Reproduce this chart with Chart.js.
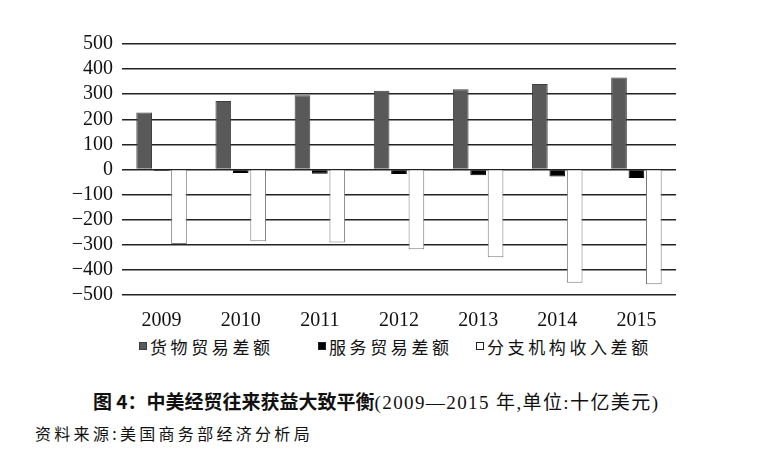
<!DOCTYPE html>
<html>
<head>
<meta charset="utf-8">
<script src="https://cdn.jsdelivr.net/npm/chart.js@4"></script>
<style>
  body { margin: 0; width: 768px; height: 456px; position: relative; background: #fff; overflow: hidden; }
  #wrap { position: absolute; left: 0; top: 0; width: 768px; height: 330px; }
  .legend-item { position: absolute; top: 336px; height: 20px; display: flex; align-items: center;
    font-family: "Noto Sans CJK SC", sans-serif; font-size: 17px; letter-spacing: 3.6px; color: #111; white-space: nowrap; }
  .legend-box { width: 6px; height: 6px; margin-right: 3px; flex: none; }
  #caption { position: absolute; left: 93px; top: 390px; line-height: 22px; white-space: nowrap; color: #111; }
  #caption b { font-family: "Noto Sans CJK SC", sans-serif; font-size: 19px; font-weight: 700; }
  #caption span { font-family: "Liberation Serif", "Noto Sans CJK SC", serif; font-size: 19px; letter-spacing: 1.4px; }
  #source { position: absolute; left: 35px; top: 423px; line-height: 20px; white-space: nowrap; color: #111;
    font-family: "Noto Sans CJK SC", sans-serif; font-size: 16px; letter-spacing: 3.3px; }
</style>
</head>
<body>
<div id="wrap"><canvas id="chart"></canvas></div>
<div id="legend"></div>
<div id="caption"><b>图 4：中美经贸往来获益大致平衡</b><span>(2009—2015 年,单位:十亿美元)</span></div>
<div id="source">资料来源:美国商务部经济分析局</div>
<script>
// Chart data (billions of USD)
const years = ['2009', '2010', '2011', '2012', '2013', '2014', '2015'];
const seriesNames = ['货物贸易差额', '服务贸易差额', '分支机构收入差额'];
const goodsBalance = [227, 273, 296, 314, 320, 341, 367];
const servicesBalance = [-6, -14, -17, -18, -23, -28, -34];
const affiliateBalance = [-297, -286, -291, -318, -350, -451, -457];

// where each legend entry starts (px)
const legendLeft = [139, 318, 476];

const serif = 'Liberation Serif';

function renderChart() {
    const ctx = document.getElementById('chart').getContext('2d');
    return new Chart(ctx, {
        type: 'bar',
        data: {
            labels: years,
            datasets: [
                { label: seriesNames[0], data: goodsBalance, backgroundColor: '#595959', borderColor: '#3d3d3d', borderWidth: 1 },
                { label: seriesNames[1], data: servicesBalance, backgroundColor: '#000000', borderColor: '#000000', borderWidth: 1 },
                { label: seriesNames[2], data: affiliateBalance, backgroundColor: '#ffffff', borderColor: '#7a7a7a', borderWidth: 1 }
            ]
        },
        options: {
            responsive: true,
            maintainAspectRatio: false,
            animation: false,
            layout: { padding: { top: 44, right: 92, bottom: 0, left: 0 } },
            datasets: { bar: { categoryPercentage: 0.66, barPercentage: 0.9 } },
            plugins: {
                legend: { display: false },
                tooltip: { enabled: false }
            },
            scales: {
                x: {
                    grid: { display: false },
                    border: { display: false },
                    ticks: { color: '#111', font: { family: serif, size: 20 }, padding: 6 },
                    afterFit: scale => { scale.height = 35; }
                },
                y: {
                    min: -500,
                    max: 500,
                    grid: { color: '#222', lineWidth: 1.6, drawTicks: false },
                    border: { display: false },
                    ticks: {
                        stepSize: 100,
                        autoSkip: false,
                        color: '#111',
                        padding: 9,
                        font: { family: serif, size: 20 },
                        callback: v => String(v).replace('-', '\u2212')
                    },
                    afterFit: scale => { scale.width = 122; }
                }
            }
        }
    });
}

// HTML legend built from the chart's own legend items
function renderLegend(chart) {
    const box = document.getElementById('legend');
    const items = Chart.defaults.plugins.legend.labels.generateLabels(chart);
    items.forEach((item, i) => {
        const el = document.createElement('div');
        el.className = 'legend-item';
        el.style.left = legendLeft[i] + 'px';
        const sw = document.createElement('span');
        sw.className = 'legend-box';
        sw.style.background = item.fillStyle;
        sw.style.border = '1px solid ' + (i === 0 ? '#3d3d3d' : '#222');
        el.appendChild(sw);
        el.appendChild(document.createTextNode(item.text));
        box.appendChild(el);
    });
}

const chart = renderChart();
renderLegend(chart);
</script>
</body>
</html>
